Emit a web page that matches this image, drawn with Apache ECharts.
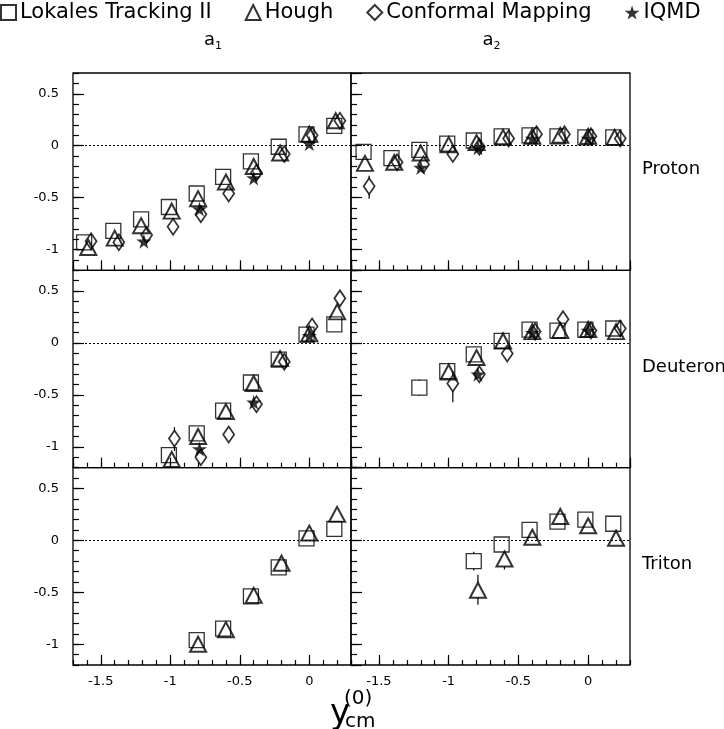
<!DOCTYPE html>
<html>
<head>
<meta charset="utf-8">
<script src="https://cdn.jsdelivr.net/npm/echarts@6/dist/echarts.min.js"></script>
<style>
  html, body { margin: 0; padding: 0; background: #fff; }
  #chart { width: 724px; height: 729px; }
</style>
</head>
<body>
<div id="chart"></div>
<script>
// axis ranges and labels
var xRange = [-1.7, 0.3];
var yRange = [-1.2, 0.7];
var rowNames = ["Proton", "Deuteron", "Triton"];
var colSubs = ["1", "2"];
var methodNames = ["Lokales Tracking II", "Hough", "Conformal Mapping", "IQMD"];

// Proton, a1
var protonA1Lokales = [[-1.62,-0.93],[-1.41,-0.82],[-1.21,-0.71],[-1.01,-0.59],[-0.81,-0.46],[-0.62,-0.30],[-0.42,-0.15],[-0.22,-0.01],[-0.02,0.11],[0.18,0.19]];
var protonA1Hough = [[-1.59,-0.98],[-1.40,-0.89],[-1.21,-0.77],[-0.99,-0.63],[-0.80,-0.51],[-0.60,-0.35],[-0.40,-0.20],[-0.21,-0.07],[0.00,0.11],[0.19,0.24]];
var protonA1Conformal = [[-1.57,-0.92],[-1.37,-0.93],[-1.17,-0.86],[-0.98,-0.78],[-0.78,-0.66],[-0.58,-0.46],[-0.38,-0.26],[-0.18,-0.08],[0.02,0.10],[0.22,0.24]];
var protonA1Iqmd = [[-1.19,-0.92],[-0.79,-0.61],[-0.40,-0.31],[0.00,0.02]];
var protonA1Err = [];

// Proton, a2
var protonA2Lokales = [[-1.61,-0.06],[-1.41,-0.12],[-1.21,-0.04],[-1.01,0.02],[-0.82,0.05],[-0.62,0.09],[-0.42,0.10],[-0.22,0.09],[-0.02,0.08],[0.18,0.08]];
var protonA2Hough = [[-1.60,-0.17],[-1.39,-0.16],[-1.20,-0.07],[-1.00,0.01],[-0.80,0.03],[-0.61,0.08],[-0.40,0.09],[-0.20,0.10],[0.00,0.09],[0.19,0.08]];
var protonA2Conformal = [[-1.57,-0.39],[-1.37,-0.16],[-1.18,-0.18],[-0.97,-0.08],[-0.78,-0.01],[-0.57,0.07],[-0.37,0.11],[-0.17,0.11],[0.02,0.09],[0.23,0.07]];
var protonA2Iqmd = [[-1.20,-0.21],[-0.79,-0.02],[-0.40,0.07],[0.00,0.07]];
var protonA2Err = [[-1.57,-0.39,-0.51,-0.29]];

// Deuteron, a1
var deuteronA1Lokales = [[-1.01,-1.08],[-0.81,-0.87],[-0.62,-0.65],[-0.42,-0.38],[-0.22,-0.16],[-0.02,0.08],[0.18,0.18]];
var deuteronA1Hough = [[-0.99,-1.12],[-0.80,-0.90],[-0.60,-0.66],[-0.40,-0.39],[-0.21,-0.15],[0.00,0.09],[0.20,0.30]];
var deuteronA1Conformal = [[-0.97,-0.92],[-0.78,-1.10],[-0.58,-0.88],[-0.38,-0.59],[-0.18,-0.18],[0.02,0.16],[0.22,0.43]];
var deuteronA1Iqmd = [[-0.79,-1.02],[-0.40,-0.57],[0.00,0.07]];
var deuteronA1Err = [[-0.97,-0.92,-1.04,-0.81]];

// Deuteron, a2
var deuteronA2Lokales = [[-1.21,-0.43],[-1.01,-0.27],[-0.82,-0.11],[-0.62,0.02],[-0.42,0.13],[-0.22,0.12],[-0.02,0.13],[0.18,0.14]];
var deuteronA2Hough = [[-1.00,-0.28],[-0.80,-0.14],[-0.61,0.02],[-0.40,0.11],[-0.20,0.12],[0.00,0.13],[0.20,0.11]];
var deuteronA2Conformal = [[-0.97,-0.39],[-0.78,-0.30],[-0.58,-0.10],[-0.38,0.11],[-0.18,0.23],[0.02,0.12],[0.23,0.14]];
var deuteronA2Iqmd = [[-0.79,-0.30],[-0.40,0.10],[0.00,0.12]];
var deuteronA2Err = [[-1.21,-0.43,-0.51,-0.35],[-0.97,-0.39,-0.57,-0.27]];

// Triton, a1
var tritonA1Lokales = [[-0.81,-0.96],[-0.62,-0.85],[-0.42,-0.54],[-0.22,-0.26],[-0.02,0.02],[0.18,0.11]];
var tritonA1Hough = [[-0.80,-1.00],[-0.60,-0.86],[-0.40,-0.53],[-0.20,-0.22],[0.00,0.07],[0.20,0.25]];
var tritonA1Err = [];

// Triton, a2
var tritonA2Lokales = [[-0.82,-0.20],[-0.62,-0.04],[-0.42,0.10],[-0.22,0.18],[-0.02,0.20],[0.18,0.16]];
var tritonA2Hough = [[-0.79,-0.48],[-0.60,-0.18],[-0.40,0.03],[-0.20,0.23],[0.00,0.14],[0.20,0.02]];
var tritonA2Err = [[-0.82,-0.20,-0.29,-0.11],[-0.79,-0.48,-0.62,-0.33],[-0.60,-0.18,-0.28,-0.14]];

var panels = [
  { row: 0, col: 0, sets: [protonA1Lokales, protonA1Hough, protonA1Conformal, protonA1Iqmd], err: protonA1Err },
  { row: 0, col: 1, sets: [protonA2Lokales, protonA2Hough, protonA2Conformal, protonA2Iqmd], err: protonA2Err },
  { row: 1, col: 0, sets: [deuteronA1Lokales, deuteronA1Hough, deuteronA1Conformal, deuteronA1Iqmd], err: deuteronA1Err },
  { row: 1, col: 1, sets: [deuteronA2Lokales, deuteronA2Hough, deuteronA2Conformal, deuteronA2Iqmd], err: deuteronA2Err },
  { row: 2, col: 0, sets: [tritonA1Lokales, tritonA1Hough, [], []], err: tritonA1Err },
  { row: 2, col: 1, sets: [tritonA2Lokales, tritonA2Hough, [], []], err: tritonA2Err }
];

var FONT = "DejaVu Sans";
var STAR = "path://M50,0 L61,35 L98,35 L68,57 L79,91 L50,70 L21,91 L32,57 L2,35 L39,35 Z";
var markers = [
  { symbol: "rect", size: 15, style: { color: "rgba(0,0,0,0)", borderColor: "#000", borderWidth: 1.3 } },
  { symbol: "triangle", size: [16, 15], style: { color: "rgba(0,0,0,0)", borderColor: "#000", borderWidth: 2 } },
  { symbol: "diamond", size: [11, 16], style: { color: "rgba(0,0,0,0)", borderColor: "#000", borderWidth: 1.8 } },
  { symbol: STAR, size: 15, style: { color: "#000", borderWidth: 0 } }
];

var chart = echarts.init(document.getElementById("chart"), null, { renderer: "canvas" });

var gridLeft = [73, 351], gridWidth = [278, 279];
var gridTop = 73, gridH = 197.33;

var grids = [], xAxes = [], yAxes = [], series = [];

function halfStep(v) {
  return Math.abs(v * 2 - Math.round(v * 2)) < 1e-6 ? String(v) : "";
}

panels.forEach(function (p, i) {
  grids.push({
    left: gridLeft[p.col], top: gridTop + p.row * gridH,
    width: gridWidth[p.col], height: gridH,
    show: true, borderColor: "#000", borderWidth: 1.3, backgroundColor: "transparent",
    containLabel: false, outerBoundsMode: "none"
  });
  var showX = p.row === 2, showY = p.col === 0;
  // major axes (labels + long ticks)
  xAxes.push({
    gridIndex: i, type: "value", position: "bottom", min: xRange[0], max: xRange[1], splitNumber: 4,
    axisLine: { show: false, onZero: false }, splitLine: { show: false },
    axisTick: { inside: true, length: 10, lineStyle: { color: "#000", width: 1.2 } },
    axisLabel: {
      show: showX, showMinLabel: false, showMaxLabel: false, margin: 10,
      color: "#000", fontFamily: FONT, fontSize: 13, formatter: halfStep
    }
  });
  yAxes.push({
    gridIndex: i, type: "value", position: "left", min: yRange[0], max: yRange[1], splitNumber: 4,
    axisLine: { show: false, onZero: false }, splitLine: { show: false },
    axisTick: { inside: true, length: 11, lineStyle: { color: "#000", width: 1.2 } },
    axisLabel: {
      show: showY, showMinLabel: false, showMaxLabel: false, margin: 14,
      color: "#000", fontFamily: FONT, fontSize: 13, formatter: halfStep
    }
  });
  // minor ticks every 0.1
  xAxes.push({
    gridIndex: i, type: "value", position: "bottom", min: xRange[0], max: xRange[1], interval: 0.1,
    axisLine: { show: false, onZero: false }, splitLine: { show: false }, axisLabel: { show: false },
    axisTick: { inside: true, length: 5, lineStyle: { color: "#000", width: 1.2 } }
  });
  yAxes.push({
    gridIndex: i, type: "value", position: "left", min: yRange[0], max: yRange[1], interval: 0.1,
    axisLine: { show: false, onZero: false }, splitLine: { show: false }, axisLabel: { show: false },
    axisTick: { inside: true, length: 6, lineStyle: { color: "#000", width: 1.2 } }
  });

  var xi = i * 2, yi = i * 2;

  // error bars, drawn outside the marker
  series.push({
    type: "custom", xAxisIndex: xi, yAxisIndex: yi, silent: true, z: 1,
    data: p.err,
    renderItem: function (params, api) {
      var x = api.value(0);
      var c = api.coord([x, api.value(1)]);
      var lo = api.coord([x, api.value(2)]);
      var hi = api.coord([x, api.value(3)]);
      var gap = 7.5, kids = [];
      if (lo[1] > c[1] + gap) kids.push({ type: "line", shape: { x1: c[0], y1: c[1] + gap, x2: c[0], y2: lo[1] }, style: { stroke: "#000", lineWidth: 1.2 } });
      if (hi[1] < c[1] - gap) kids.push({ type: "line", shape: { x1: c[0], y1: c[1] - gap, x2: c[0], y2: hi[1] }, style: { stroke: "#000", lineWidth: 1.2 } });
      return { type: "group", children: kids };
    }
  });

  p.sets.forEach(function (data, m) {
    var s = {
      name: methodNames[m], type: "scatter", xAxisIndex: xi, yAxisIndex: yi,
      data: data, symbol: markers[m].symbol, symbolSize: markers[m].size,
      itemStyle: markers[m].style, z: 2 + m, silent: true
    };
    if (m === 0) {
      s.markLine = {
        silent: true, symbol: "none", animation: false, label: { show: false },
        lineStyle: { color: "#000", width: 1, type: [2, 2] },
        data: [{ yAxis: 0 }]
      };
    }
    series.push(s);
  });
});

// texts around the panels
var graphics = [];
var colCenters = [gridLeft[0] + gridWidth[0] / 2, gridLeft[1] + gridWidth[1] / 2];
colSubs.forEach(function (sub, c) {
  graphics.push({ type: "text", left: colCenters[c] - 8, top: 31, style: { text: "a", font: "18px " + FONT, fill: "#000" } });
  graphics.push({ type: "text", left: colCenters[c] + 3, top: 41, style: { text: sub, font: "11px " + FONT, fill: "#000" } });
});
rowNames.forEach(function (name, r) {
  graphics.push({
    type: "text", left: 642, top: gridTop + r * gridH + gridH / 2 - 11,
    style: { text: name, font: "18px " + FONT, fill: "#000" }
  });
});
graphics.push({ type: "text", left: 330, top: 697, style: { text: "y", font: "34px " + FONT, fill: "#000" } });
graphics.push({ type: "text", left: 344, top: 689, style: { text: "(0)", font: "20px " + FONT, fill: "#000" } });
graphics.push({ type: "text", left: 345, top: 712, style: { text: "cm", font: "20px " + FONT, fill: "#000" } });

chart.setOption({
  animation: false,
  backgroundColor: "#fff",
  textStyle: { fontFamily: FONT, color: "#000" },
  legend: {
    left: 0, top: 2, padding: 0, itemGap: 33, itemWidth: 15, itemHeight: 15,
    selectedMode: false,
    textStyle: { fontFamily: FONT, fontSize: 21, color: "#000", padding: [0, 0, 0, -1] },
    data: methodNames
  },
  grid: grids,
  xAxis: xAxes,
  yAxis: yAxes,
  series: series,
  graphic: graphics
});
</script>
</body>
</html>
